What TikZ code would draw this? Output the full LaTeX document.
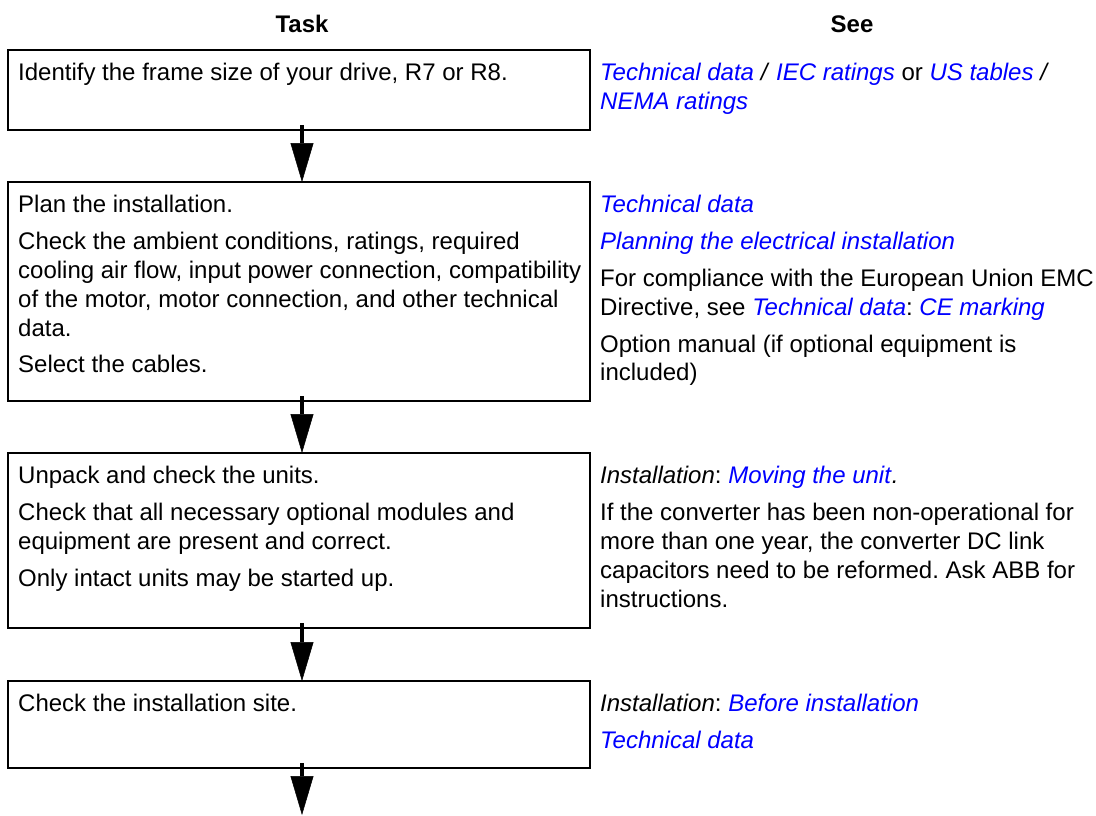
\documentclass[tikz,border=0pt]{standalone}
\usepackage{fontspec}
\setmainfont{Liberation Sans}
\usetikzlibrary{arrows.meta}
\definecolor{linkblue}{RGB}{0,0,255}
\newcommand{\lnk}[1]{\textcolor{linkblue}{\textit{#1}}}
\frenchspacing
\tikzset{
  box/.style={draw=black, line width=2pt, minimum width=582pt, anchor=north west, inner sep=0pt, outer sep=0pt},
  txt/.style={anchor=north west, inner sep=0pt, align=left, font=\fontsize{24}{28.8}\selectfont\frenchspacing},
  head/.style={anchor=base, inner sep=0pt, font=\fontsize{24}{28.8}\selectfont\bfseries},
  flow/.style={line width=4pt, -{Triangle[length=39pt,width=23pt,line width=0.5pt]}}
}
\begin{document}
\begin{tikzpicture}[x=1pt,y=-1pt]
\useasboundingbox (0,0) rectangle (1096,815);
% headers
\node[head] (htask) at (302,32) {Task};
\node[head] (hsee) at (852,32) {See};
% boxes
\node[box, minimum height=80pt] (b1) at (8,50) {};
\node[box, minimum height=219pt] (b2) at (8,182) {};
\node[box, minimum height=175pt] (b3) at (8,453) {};
\node[box, minimum height=87pt] (b4) at (8,681) {};
% task texts
\node[txt] (t1) at (18,60.5) {\strut Identify the frame size of your drive, R7 or R8.};
\node[txt] (t2) at (18,192.5) {\strut Plan the installation.\\[8pt]
Check the ambient conditions, ratings, required\\
cooling air flow, input power connection, compatibility\\
of the motor, motor connection, and other technical\\
data.\\[8pt]
Select the cables.};
\node[txt] (t3) at (18,463.5) {\strut Unpack and check the units.\\[8pt]
Check that all necessary optional modules and\\
equipment are present and correct.\\[8pt]
Only intact units may be started up.};
\node[txt] (t4) at (18,691.5) {\strut Check the installation site.};
% see texts
\node[txt] (s1) at (600,60.5) {\strut\lnk{Technical data} \textit{/} \lnk{IEC ratings} or \lnk{US tables} \textit{/}\\
\lnk{NEMA ratings}};
\node[txt] (s2) at (600,192.5) {\strut\lnk{Technical data}\\[8pt]
\lnk{Planning the electrical installation}\\[8pt]
For compliance with the European Union EMC\\
Directive, see \lnk{Technical data}: \lnk{CE marking}\\[8pt]
Option manual (if optional equipment is\\
included)};
\node[txt] (s3) at (600,463.5) {\strut\textit{Installation}: \lnk{Moving the unit}\textit{.}\\[8pt]
If the converter has been non-operational for\\
more than one year, the converter DC link\\
capacitors need to be reformed. Ask ABB for\\
instructions.};
\node[txt] (s4) at (600,691.5) {\strut\textit{Installation}: \lnk{Before installation}\\[8pt]
\lnk{Technical data}};
% connectors
\coordinate (endpt) at (302,815);
\draw[flow] ([xshift=3pt,yshift=5pt]b1.south) -- ([xshift=3pt]b2.north);
\draw[flow] ([xshift=3pt,yshift=5pt]b2.south) -- ([xshift=3pt]b3.north);
\draw[flow] ([xshift=3pt,yshift=5pt]b3.south) -- ([xshift=3pt]b4.north);
\draw[flow] ([xshift=3pt,yshift=5pt]b4.south) -- (endpt);
\end{tikzpicture}
\end{document}
